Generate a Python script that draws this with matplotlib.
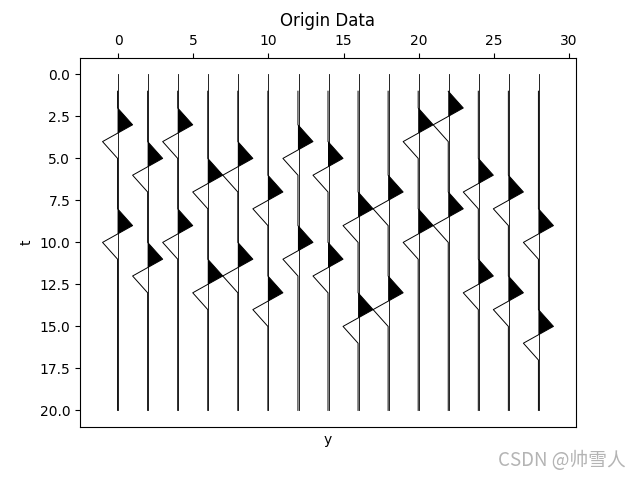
import numpy as np
import matplotlib
matplotlib.use("Agg")
import matplotlib.pyplot as plt

# trace positions (y) and sample times (t)
trace_y = [0, 2, 4, 6, 8, 10, 12, 14, 16, 18, 20, 22, 24, 26, 28]
t_full = [0, 20]
t_samples = list(range(1, 21))
# times of the positive peak of each wavelet, per trace
peak_times = [
    [3, 9], [5, 11], [3, 9], [6, 12], [5, 11],
    [7, 13], [4, 10], [5, 11], [8, 14], [7, 13],
    [3, 9], [2, 8], [6, 12], [7, 13], [9, 15],
]
wavelet = [1.0, -1.0]
trace_shift = -0.04

fig, ax = plt.subplots(figsize=(6.4, 4.8), dpi=100)
t = np.array(t_samples, dtype=float)
for y0, peaks in zip(trace_y, peak_times):
    d = np.zeros(len(t_samples))
    for p in peaks:
        for k, w in enumerate(wavelet):
            idx = t_samples.index(p + k)
            d[idx] = w
    base = y0 + trace_shift
    ax.plot([y0, y0], t_full, color='k', lw=0.6)
    ax.plot(base + d, t, color='k', lw=0.7)
    ax.fill_betweenx(t, base, base + d, where=d > 0, interpolate=True,
                     color='k', lw=0)

ax.invert_yaxis()
ax.xaxis.tick_top()
ax.set_xlabel('y')
ax.set_ylabel('t')
ax.set_title('Origin Data')
fig.text(0.977, 0.04, 'CSDN @帅雪人', ha='right', va='center', fontsize=13.5,
         color='#b4b4b4', family=['Noto Sans CJK SC', 'DejaVu Sans'])
fig.savefig('out.png', dpi=100)
